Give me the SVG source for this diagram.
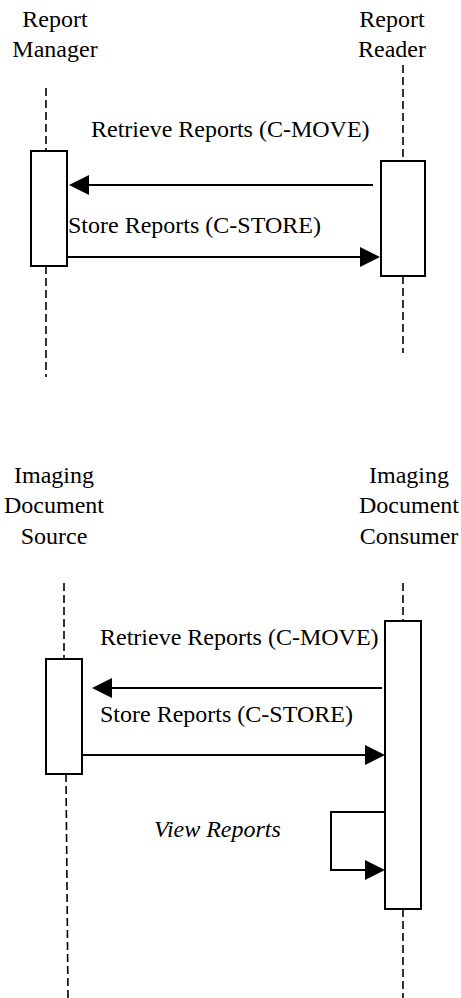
<svg xmlns="http://www.w3.org/2000/svg" width="461" height="998" viewBox="0 0 461 998" font-family="Liberation Serif, Times New Roman, serif" font-size="24">
<style>
.c{text-anchor:middle}
.life{stroke:#000;stroke-width:1.6;stroke-dasharray:8,4;fill:none}
.act{fill:#fff;stroke:#000;stroke-width:2}
.msg{stroke:#000;stroke-width:2;fill:none;marker-end:url(#ah)}
</style>
<defs>
<marker id="ah" markerUnits="userSpaceOnUse" markerWidth="20" markerHeight="20" viewBox="0 0 20 20" refX="18" refY="10" orient="auto">
<path d="M0,0 L20,10 L0,20 z" fill="#000"/>
</marker>
</defs>
<rect width="461" height="998" fill="#fff"/>
<g id="report-manager">
<text class="c" x="55" y="27">Report</text>
<text class="c" x="55" y="57">Manager</text>
<line class="life" x1="46" y1="88" x2="46" y2="151"/>
<line class="life" x1="46" y1="266" x2="46" y2="377"/>
<rect class="act" x="31" y="151" width="36" height="115"/>
</g>
<g id="report-reader">
<text class="c" x="392" y="27">Report</text>
<text class="c" x="392" y="57">Reader</text>
<line class="life" x1="403" y1="65" x2="403" y2="161"/>
<line class="life" x1="403" y1="276" x2="403" y2="353"/>
<rect class="act" x="381" y="161" width="44" height="115"/>
</g>
<g id="imaging-document-source">
<text class="c" x="54" y="483">Imaging</text>
<text class="c" x="54" y="513">Document</text>
<text class="c" x="54" y="544">Source</text>
<line class="life" x1="64" y1="583" x2="64" y2="659"/>
<line class="life" x1="66" y1="774" x2="68" y2="998"/>
<rect class="act" x="46" y="659" width="36" height="115"/>
</g>
<g id="imaging-document-consumer">
<text class="c" x="409" y="483">Imaging</text>
<text class="c" x="409" y="513">Document</text>
<text class="c" x="409" y="544">Consumer</text>
<line class="life" x1="403" y1="583" x2="403" y2="621"/>
<line class="life" x1="403" y1="909" x2="403" y2="998"/>
<rect class="act" x="385" y="621" width="36" height="288"/>
</g>
<g id="connectors">
<path class="msg" d="M373,185 H71"/>
<text x="91" y="137">Retrieve Reports (C-MOVE)</text>
<path class="msg" d="M67,257 H378"/>
<text x="68" y="233">Store Reports (C-STORE)</text>
<path class="msg" d="M382,688 H94"/>
<text x="100" y="645">Retrieve Reports (C-MOVE)</text>
<path class="msg" d="M82,755 H383"/>
<text x="100" y="722">Store Reports (C-STORE)</text>
<path class="msg" d="M385,812 H331 V870 H383"/>
<text x="154" y="837" font-style="italic">View Reports</text>
</g>
</svg>
